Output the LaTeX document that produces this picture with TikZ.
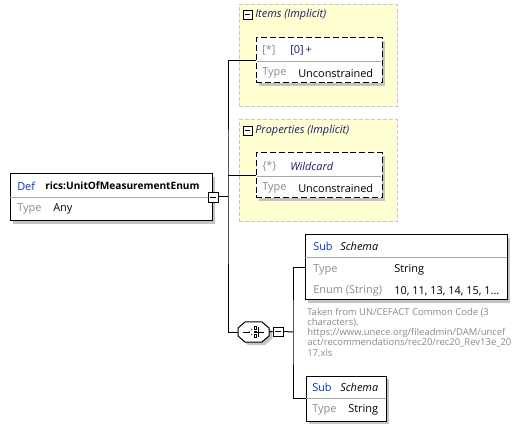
\documentclass[tikz,border=0pt]{standalone}
\usepackage{fontspec}
\setmainfont{Open Sans}
\usetikzlibrary{shadows,fit}
\definecolor{kwblue}{HTML}{0033CC}
\definecolor{lblgray}{HTML}{8C8C8C}
\definecolor{sepgray}{HTML}{A8A8A8}
\definecolor{shgray}{HTML}{C4C4C4}
\definecolor{grpfill}{HTML}{FFFFD2}
\definecolor{grpdraw}{HTML}{C8C8C8}
\definecolor{navy}{HTML}{1A1A70}
\definecolor{doctext}{HTML}{8A8A8A}
\tikzset{
  shbox/.style={draw=black, fill=white, line width=0.75pt, inner sep=0pt,
    drop shadow={shadow xshift=2.6pt, shadow yshift=-2.6pt, opacity=1, fill=shgray}},
  dashbox/.style={shbox, dash pattern=on 4.5pt off 2.2pt},
  grp/.style={draw=grpdraw, fill=grpfill, line width=0.75pt, dash pattern=on 3pt off 1.5pt, inner sep=0pt},
  sep/.style={draw=sepgray, line width=0.6pt},
  kw/.style={anchor=west, inner sep=0pt, text=kwblue, font=\fontsize{8.2}{10}\selectfont},
  lbl/.style={anchor=west, inner sep=0pt, text=lblgray, font=\fontsize{8.2}{10}\selectfont},
  val/.style={anchor=west, inner sep=0pt, text=black, font=\fontsize{8.2}{10}\selectfont},
  ital/.style={anchor=west, inner sep=0pt, text=navy, font=\fontsize{8.2}{10}\selectfont\itshape},
  minusbox/.style={draw=black, fill=white, line width=0.6pt, inner sep=0pt},
  conn/.style={draw=black, line width=0.75pt},
  doc/.style={anchor=west, inner sep=0pt, text=doctext, font=\fontsize{7.1}{8}\selectfont},
}
\newcommand{\minusmark}[1]{\draw[line width=0.6pt] ([xshift=1.5pt]#1.west) -- ([xshift=-1.5pt]#1.east);}
\begin{document}
\begin{tikzpicture}[x=0.75pt,y=-0.75pt]
\useasboundingbox (0,0) rectangle (517,427);
\fill[white] (0,0) rectangle (517,427);

% ---------- main element ----------
\node[shbox, fit={(10,174) (212,221)}] (main) {};
\draw[sep] (10,197) -- (212,197);
\node[kw] (mdef) at (17,186) {Def};
\node[val, font=\fontsize{7.6}{10}\selectfont\bfseries] (mname) at (45,186) {rics:UnitOfMeasurementEnum};
\node[lbl] (mtype) at (17,209) {Type};
\node[val] (many) at (53,209) {Any};
\node[minusbox, fit={(208,192) (218,202)}] (mc) {};
\minusmark{mc}

% ---------- Items group ----------
\node[grp, fit={(239,5) (397,107)}] (gitems) {};
\node[minusbox, fit={(243,10) (252,19)}] (gic) {};
\minusmark{gic}
\node[ital] (gil) at (255,15) {Items (Implicit)};
\node[dashbox, fit={(256,38) (382,83)}] (ib) {};
\draw[sep] (257,61) -- (381,61);
\node[lbl] (ista) at (262,50) {[*]};
\node[ital, font=\fontsize{8.2}{10}\selectfont] (izero) at (290,50) {[0]\,+};
\node[lbl] (itype) at (262,73) {Type};
\node[val] (iunc) at (298,73) {Unconstrained};

% ---------- Properties group ----------
\node[grp, fit={(239,120) (397,222)}] (gprops) {};
\node[minusbox, fit={(243,126) (252,135)}] (gpc) {};
\minusmark{gpc}
\node[ital] (gpl) at (255,131) {Properties (Implicit)};
\node[dashbox, fit={(256,153) (382,198)}] (pb) {};
\draw[sep] (257,176) -- (381,176);
\node[lbl] (psta) at (262,166) {\{*\}};
\node[ital] (pwild) at (290,166) {Wildcard};
\node[lbl] (ptype) at (262,188) {Type};
\node[val] (punc) at (298,188) {Unconstrained};

% ---------- choice ----------
\node[fit={(238,322) (269,342)}, inner sep=0pt] (choice) {};
\fill[shgray] (248,325) -- (265,325) -- (272,331) -- (272,339) -- (265,345) -- (248,345) -- (241,339) -- (241,331) -- cycle;
\draw[black, fill=white, line width=0.75pt] (245,322) -- (262,322) -- (269,328) -- (269,336) -- (262,342) -- (245,342) -- (238,336) -- (238,328) -- cycle;
\draw[line width=0.6pt] (243,332) -- (249,332);
\draw[line width=0.6pt, dotted] (249,332) -- (253,328) (249,332) -- (253,336);
\draw[line width=0.5pt] (254,326.5) rectangle (256.5,329) (254,334.5) rectangle (256.5,337);
\fill (254,330.8) rectangle (256.5,333.3);
\draw[line width=0.6pt] (258,327) -- (258,337) (256.5,332) -- (264,332);
\node[minusbox, fit={(273,327) (283,336)}] (cc) {};
\minusmark{cc}

% ---------- Sub schema 1 ----------
\node[shbox, fit={(305,235) (507,300)}] (s1) {};
\draw[sep] (305,257) -- (507,257);
\node[kw] (s1sub) at (313,246) {Sub};
\node[ital, text=black] (s1sch) at (340,246) {Schema};
\node[lbl] (s1type) at (313,270) {Type};
\node[val] (s1str) at (394,270) {String};
\node[lbl] (s1enl) at (313,291) {Enum (String)};
\node[val] (s1env) at (394,291) {10, 11, 13, 14, 15, 1...};

% ---------- documentation ----------
\node[doc] (d1) at (307,313) {Taken from UN/CEFACT Common Code (3};
\node[doc] (d2) at (307,323) {characters).};
\node[doc] (d3) at (307,333) {https://www.unece.org/fileadmin/DAM/uncef};
\node[doc] (d4) at (307,343) {act/recommendations/rec20/rec20\_Rev13e\_20};
\node[doc] (d5) at (307,353) {17.xls};

% ---------- Sub schema 2 ----------
\node[shbox, fit={(306,376) (386,421)}] (s2) {};
\draw[sep] (306,398) -- (386,398);
\node[kw] (s2sub) at (312,387) {Sub};
\node[ital, text=black] (s2sch) at (340,387) {Schema};
\node[lbl] (s2type) at (312,410) {Type};
\node[val] (s2str) at (348,410) {String};

% ---------- connectors ----------
\coordinate (j1) at (228,197);
\coordinate (j2) at (293,332);
\draw[conn] (mc.east) -- (j1);
\draw[conn] (ib.west) -| (j1) |- (choice.west);
\draw[conn] (pb.west) -- (pb.west -| j1);
\draw[conn] (choice.east) -- (cc.west);
\draw[conn] (cc.east) -- (j2);
\draw[conn] (s1.west) -| (j2) |- (s2.west);
\end{tikzpicture}
\end{document}
